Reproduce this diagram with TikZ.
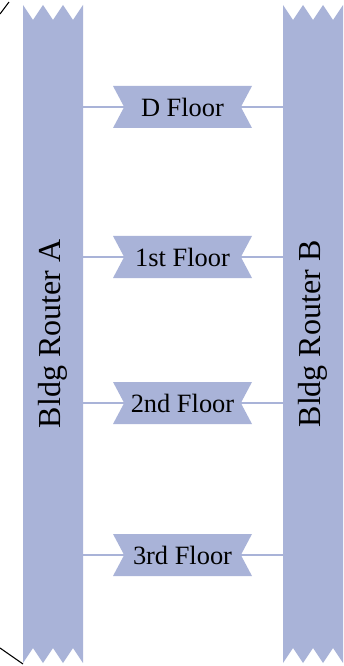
\documentclass[tikz,border=0pt]{standalone}
\usepackage{fontspec}
\setmainfont{Liberation Serif}
\usetikzlibrary{shapes.symbols,backgrounds}
\definecolor{rb}{RGB}{169,179,216}
\tikzset{
  floornode/.style={shape=signal, signal to=nowhere, signal from=west and east, signal pointer angle=124,
    fill=rb, minimum width=104.25pt, minimum height=31.5pt, inner sep=0pt,
    font=\fontsize{19.8}{22}\selectfont},
  routernode/.style={shape=rectangle, minimum width=45pt, minimum height=493.5pt, inner sep=0pt,
    font=\fontsize{24}{28}\selectfont},
  routerfill/.style={fill=rb},
  conn/.style={draw=rb, line width=1.6pt},
  edge/.style={draw=black, line width=0.8pt}
}
\begin{document}
\begin{tikzpicture}[x=0.75pt,y=-0.75pt]
\useasboundingbox (0,0) rectangle (343,666);
% router bodies
\fill[routerfill] (23,5) -- (33,20) -- (43,5) -- (53,20) -- (63,5) -- (73,20) -- (83,5)
  -- (83,663) -- (73,648) -- (63,663) -- (53,648) -- (43,663) -- (33,648) -- (23,663) -- cycle;
\fill[routerfill] (283,5) -- (293,20) -- (303,5) -- (313,20) -- (323,5) -- (333,20) -- (343,5)
  -- (343,663) -- (333,648) -- (323,663) -- (313,648) -- (303,663) -- (293,648) -- (283,663) -- cycle;
\node[routernode] (A) at (53,334) {\rotatebox{90}{Bldg Router A}};
\node[routernode] (B) at (313,334) {\rotatebox{90}{Bldg Router B}};
% floors
\node[floornode] (D) at (182.5,107) {D Floor};
\node[floornode] (F1) at (182.5,257) {1st Floor};
\node[floornode] (F2) at (182.5,403) {2nd Floor};
\node[floornode] (F3) at (182.5,555) {3rd Floor};
\begin{pgfonlayer}{background}
\foreach \f in {D,F1,F2,F3}{
  \draw[conn] (A.east |- \f.center) -- (\f.center);
  \draw[conn] (\f.center) -- (B.west |- \f.center);
}
\end{pgfonlayer}
% partial frame edges at the left corners
\coordinate (tl1) at (0,14);
\coordinate (tl2) at (9,2);
\coordinate (bl1) at (0,648);
\coordinate (bl2) at (23,664);
\begin{scope}
\clip (0,0) rectangle (343,666);
\draw[edge] (tl1) -- (tl2);
\draw[edge] (bl1) -- (bl2);
\end{scope}
\end{tikzpicture}
\end{document}
